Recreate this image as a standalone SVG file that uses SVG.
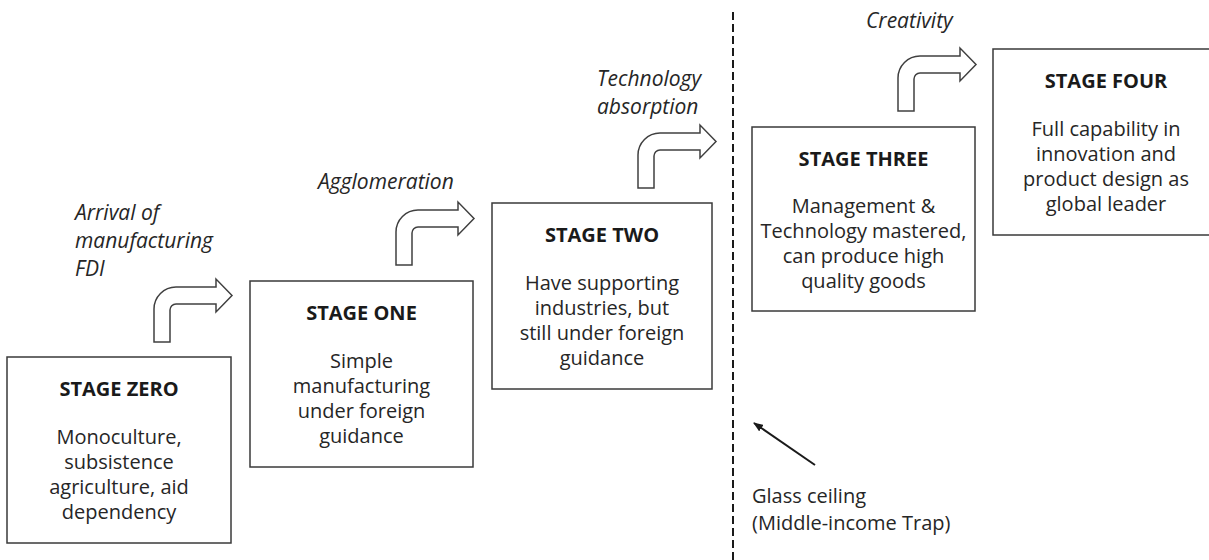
<svg xmlns="http://www.w3.org/2000/svg" width="1209" height="560" viewBox="0 0 1209 560">
<style>
.box{fill:#fff;stroke:#3a3a3a;stroke-width:1.5}
.bent{fill:#fff;stroke:#404040;stroke-width:1.5;stroke-linejoin:miter}
.title{font-family:"Open Sans","Noto Sans",sans-serif;font-weight:bold;font-size:20px;fill:#1a1a1a;text-anchor:middle}
.body{font-family:"Open Sans","Noto Sans",sans-serif;font-size:20px;fill:#262626;text-anchor:middle}
.lab{font-family:"Open Sans","Noto Sans",sans-serif;font-style:italic;font-size:21px;fill:#262626}
.note{font-family:"Open Sans","Noto Sans",sans-serif;font-size:20px;fill:#262626}
</style>
<defs>
<path id="bentArrow" d="M0,0 L0,-33 A22,22 0 0 1 22,-55 L62,-55 L62,-63 L78,-46.5 L62,-30 L62,-38 L22,-38 A6,6 0 0 0 16,-32 L16,0 Z"/>
<marker id="ah" markerWidth="10" markerHeight="8" refX="9" refY="4" orient="auto" markerUnits="userSpaceOnUse">
<path d="M0,0 L10,4 L0,8 Z" fill="#1a1a1a"/>
</marker>
</defs>

<g id="connectors">
<use href="#bentArrow" class="bent" transform="translate(154,342)"/>
<use href="#bentArrow" class="bent" transform="translate(396,265)"/>
<use href="#bentArrow" class="bent" transform="translate(638,188)"/>
<use href="#bentArrow" class="bent" transform="translate(898,111)"/>
<line x1="733" y1="12" x2="733" y2="560" stroke="#1a1a1a" stroke-width="2" stroke-dasharray="8 4"/>
<line x1="815" y1="465" x2="754" y2="423" stroke="#1a1a1a" stroke-width="2" marker-end="url(#ah)"/>
</g>

<g id="labels">
<text class="lab" x="75" y="220">Arrival of</text>
<text class="lab" x="75" y="248">manufacturing</text>
<text class="lab" x="75" y="276">FDI</text>
<text class="lab" x="318" y="189">Agglomeration</text>
<text class="lab" x="597" y="86">Technology</text>
<text class="lab" x="597" y="114">absorption</text>
<text class="lab" x="866" y="28">Creativity</text>
<text class="note" x="752" y="503">Glass ceiling</text>
<text class="note" x="752" y="530">(Middle-income Trap)</text>
</g>

<g id="stage-zero">
<rect class="box" x="7" y="357" width="224" height="186"/>
<text class="title" x="119" y="396">STAGE ZERO</text>
<text class="body" x="119" y="444">Monoculture,</text>
<text class="body" x="119" y="469">subsistence</text>
<text class="body" x="119" y="494">agriculture, aid</text>
<text class="body" x="119" y="519">dependency</text>
</g>

<g id="stage-one">
<rect class="box" x="250" y="281" width="223" height="186"/>
<text class="title" x="361.5" y="320">STAGE ONE</text>
<text class="body" x="361.5" y="368">Simple</text>
<text class="body" x="361.5" y="393">manufacturing</text>
<text class="body" x="361.5" y="418">under foreign</text>
<text class="body" x="361.5" y="443">guidance</text>
</g>

<g id="stage-two">
<rect class="box" x="492" y="203" width="220" height="186"/>
<text class="title" x="602" y="242">STAGE TWO</text>
<text class="body" x="602" y="290">Have supporting</text>
<text class="body" x="602" y="315">industries, but</text>
<text class="body" x="602" y="340">still under foreign</text>
<text class="body" x="602" y="365">guidance</text>
</g>

<g id="stage-three">
<rect class="box" x="752" y="127" width="223" height="184"/>
<text class="title" x="863.5" y="166">STAGE THREE</text>
<text class="body" x="863.5" y="213">Management &amp;</text>
<text class="body" x="863.5" y="238">Technology mastered,</text>
<text class="body" x="863.5" y="263">can produce high</text>
<text class="body" x="863.5" y="288">quality goods</text>
</g>

<g id="stage-four">
<rect class="box" x="993" y="49" width="230" height="186"/>
<text class="title" x="1106" y="88">STAGE FOUR</text>
<text class="body" x="1106" y="136">Full capability in</text>
<text class="body" x="1106" y="161">innovation and</text>
<text class="body" x="1106" y="186">product design as</text>
<text class="body" x="1106" y="211">global leader</text>
</g>
</svg>
